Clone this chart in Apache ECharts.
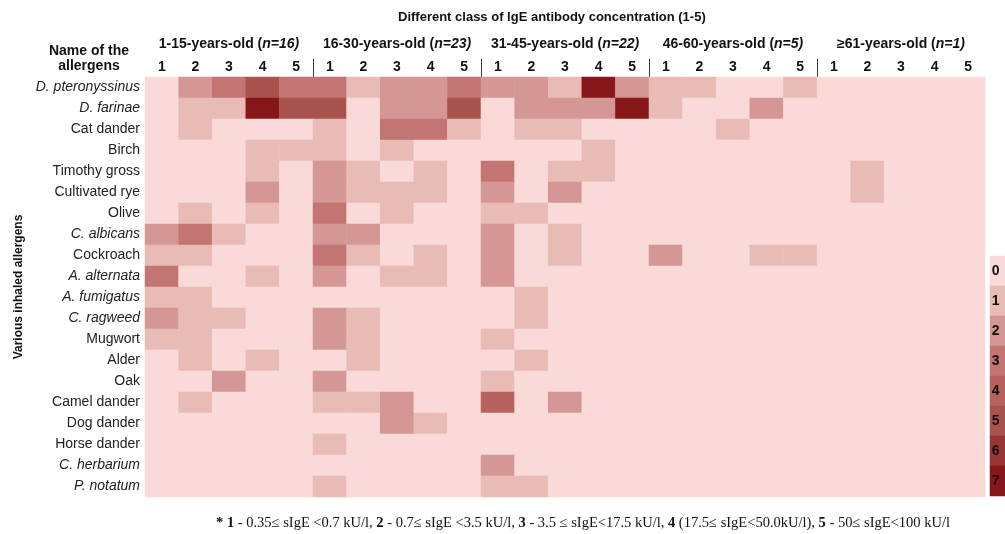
<!DOCTYPE html>
<html>
<head>
<meta charset="utf-8">
<script src="https://cdn.jsdelivr.net/npm/echarts@6/dist/echarts.min.js"></script>
<style>
html,body{margin:0;padding:0;background:#fff;}
#chart{width:1005px;height:534px;}
</style>
</head>
<body>
<div id="chart"></div>
<script>
// ---- data ----
const ageGroups = ['1-15-years-old', '16-30-years-old', '31-45-years-old', '46-60-years-old', '≥61-years-old'];
const groupN = [16, 23, 22, 5, 1];
const classes = ['1', '2', '3', '4', '5'];
const allergens = ['D. pteronyssinus', 'D. farinae', 'Cat dander', 'Birch', 'Timothy gross', 'Cultivated rye',
  'Olive', 'C. albicans', 'Cockroach', 'A. alternata', 'A. fumigatus', 'C. ragweed', 'Mugwort', 'Alder',
  'Oak', 'Camel dander', 'Dog dander', 'Horse dander', 'C. herbarium', 'P. notatum'];
const italicNames = ['D. pteronyssinus', 'D. farinae', 'C. albicans', 'A. alternata', 'A. fumigatus',
  'C. ragweed', 'C. herbarium', 'P. notatum'];
const legendLevels = [0, 1, 2, 3, 4, 5, 6, 7];
const levelColors = ['#f9dad8', '#e8bbb7', '#d49795', '#c27572', '#b6625d', '#a9534e', '#983536', '#861719'];
// one row per allergen; 25 columns = 5 age groups x 5 classes
const levels = [
  [0,2,3,5,3, 3,1,2,2,3, 2,2,1,7,2, 1,1,0,0,1, 0,0,0,0,0], // D. pteronyssinus
  [0,1,1,7,5, 5,0,2,2,5, 0,2,2,2,7, 1,0,0,2,0, 0,0,0,0,0], // D. farinae
  [0,1,0,0,0, 1,0,3,3,1, 0,1,1,0,0, 0,0,1,0,0, 0,0,0,0,0], // Cat dander
  [0,0,0,1,1, 1,0,1,0,0, 0,0,0,1,0, 0,0,0,0,0, 0,0,0,0,0], // Birch
  [0,0,0,1,0, 2,1,0,1,0, 3,0,1,1,0, 0,0,0,0,0, 0,1,0,0,0], // Timothy gross
  [0,0,0,2,0, 2,1,1,1,0, 2,0,2,0,0, 0,0,0,0,0, 0,1,0,0,0], // Cultivated rye
  [0,1,0,1,0, 3,0,1,0,0, 1,1,0,0,0, 0,0,0,0,0, 0,0,0,0,0], // Olive
  [2,3,1,0,0, 2,2,0,0,0, 2,0,1,0,0, 0,0,0,0,0, 0,0,0,0,0], // C. albicans
  [1,1,0,0,0, 3,1,0,1,0, 2,0,1,0,0, 2,0,0,1,1, 0,0,0,0,0], // Cockroach
  [3,0,0,1,0, 2,0,1,1,0, 2,0,0,0,0, 0,0,0,0,0, 0,0,0,0,0], // A. alternata
  [1,1,0,0,0, 0,0,0,0,0, 0,1,0,0,0, 0,0,0,0,0, 0,0,0,0,0], // A. fumigatus
  [2,1,1,0,0, 2,1,0,0,0, 0,1,0,0,0, 0,0,0,0,0, 0,0,0,0,0], // C. ragweed
  [1,1,0,0,0, 2,1,0,0,0, 1,0,0,0,0, 0,0,0,0,0, 0,0,0,0,0], // Mugwort
  [0,1,0,1,0, 0,1,0,0,0, 0,1,0,0,0, 0,0,0,0,0, 0,0,0,0,0], // Alder
  [0,0,2,0,0, 2,0,0,0,0, 1,0,0,0,0, 0,0,0,0,0, 0,0,0,0,0], // Oak
  [0,1,0,0,0, 1,1,2,0,0, 4,0,2,0,0, 0,0,0,0,0, 0,0,0,0,0], // Camel dander
  [0,0,0,0,0, 0,0,2,1,0, 0,0,0,0,0, 0,0,0,0,0, 0,0,0,0,0], // Dog dander
  [0,0,0,0,0, 1,0,0,0,0, 0,0,0,0,0, 0,0,0,0,0, 0,0,0,0,0], // Horse dander
  [0,0,0,0,0, 0,0,0,0,0, 2,0,0,0,0, 0,0,0,0,0, 0,0,0,0,0], // C. herbarium
  [0,0,0,0,0, 1,0,0,0,0, 1,1,0,0,0, 0,0,0,0,0, 0,0,0,0,0]  // P. notatum
];
const titleText = 'Different class of IgE antibody concentration (1-5)';
const headerText = 'Name of the\nallergens';
const yAxisTitle = 'Various inhaled allergens';
const footnote = '{b|* 1} - 0.35≤ sIgE <0.7 kU/l, {b|2} - 0.7≤ sIgE <3.5 kU/l, {b|3} - 3.5 ≤ sIgE<17.5 kU/l, {b|4} (17.5≤ sIgE<50.0kU/l), {b|5} - 50≤ sIgE<100 kU/l';

// ---- build ----
const xCats = [];
ageGroups.forEach((g, gi) => classes.forEach(c => xCats.push(gi + '|' + c)));
const groupBounds = ageGroups.map((g, i) => 'b' + i).concat(['b' + ageGroups.length]);
const cells = [];
levels.forEach((row, r) => row.forEach((v, c) => cells.push([c, r, v])));
const legendCells = legendLevels.map((v, i) => [0, i, v]);

const SANS = 'Liberation Sans, Arial, sans-serif';
const SERIF = 'Liberation Serif, Times New Roman, serif';
const chart = echarts.init(document.getElementById('chart'), null, {renderer: 'canvas'});
chart.setOption({
  backgroundColor: '#fff',
  animation: false,
  title: [
    {text: titleText, left: 393, top: 6,
     textStyle: {fontFamily: SANS, fontSize: 13, fontWeight: 'bold', color: '#111'}},
    {text: headerText, left: 84, top: 39, textAlign: 'center',
     textStyle: {fontFamily: SANS, fontSize: 14, fontWeight: 'bold', color: '#111', lineHeight: 15}},
    {text: footnote, left: 211, top: 511,
     textStyle: {fontFamily: SERIF, fontSize: 14.5, fontWeight: 'normal', color: '#111',
       rich: {b: {fontFamily: SERIF, fontSize: 14.5, fontWeight: 'bold', color: '#111'}}}}
  ],
  grid: [
    {left: 145, right: 20, top: 77, bottom: 37},
    {left: 990, top: 256, width: 34, height: 240}
  ],
  xAxis: [
    {type: 'category', gridIndex: 0, position: 'top', data: xCats,
     axisLine: {show: false}, axisTick: {show: false},
     axisLabel: {interval: 0, margin: 3, formatter: (v) => v.split('|')[1],
       fontFamily: SANS, fontSize: 14, fontWeight: 'bold', color: '#111'},
     splitLine: {show: false}},
    {type: 'category', gridIndex: 0, position: 'top', offset: 24, data: ageGroups,
     axisLine: {show: false}, axisTick: {show: false},
     axisLabel: {interval: 0, margin: 2,
       formatter: (v, i) => v + ' (' + '{i|n=' + groupN[i] + ')}',
       fontFamily: SANS, fontSize: 14, fontWeight: 'bold', color: '#111',
       rich: {i: {fontFamily: SANS, fontSize: 14, fontWeight: 'bold', fontStyle: 'italic', color: '#111'}}}},
    {type: 'category', gridIndex: 1, data: [''], show: false},
    // group separators: boundary axis without band gap, ticks only on interior boundaries
    {type: 'category', gridIndex: 0, position: 'top', boundaryGap: false, data: groupBounds,
     axisLine: {show: false}, axisLabel: {show: false},
     axisTick: {show: true, length: 18, interval: (i) => i > 0 && i < ageGroups.length,
       lineStyle: {color: '#333', width: 1}}}
  ],
  yAxis: [
    {type: 'category', gridIndex: 0, inverse: true, data: allergens,
     axisLine: {show: false}, axisTick: {show: false},
     axisLabel: {interval: 0, margin: 5,
       formatter: (v) => italicNames.includes(v) ? '{i|' + v + '}' : v,
       fontFamily: SANS, fontSize: 14, color: '#222',
       rich: {i: {fontFamily: SANS, fontSize: 14, fontStyle: 'italic', color: '#222'}}},
     name: yAxisTitle, nameLocation: 'middle', nameGap: 120, nameRotate: 90,
     nameTextStyle: {fontFamily: SANS, fontSize: 12, fontWeight: 'bold', color: '#111'}},
    {type: 'category', gridIndex: 1, inverse: true, data: legendLevels.map(String), show: false}
  ],
  visualMap: {
    type: 'piecewise', show: false, dimension: 2, seriesIndex: [0, 1],
    pieces: legendLevels.map((v) => ({value: v, color: levelColors[v]}))
  },
  series: [
    {type: 'heatmap', xAxisIndex: 0, yAxisIndex: 0, data: cells,
     itemStyle: {borderWidth: 0}, emphasis: {disabled: true}},
    {type: 'heatmap', xAxisIndex: 2, yAxisIndex: 1, data: legendCells,
     itemStyle: {borderWidth: 0}, emphasis: {disabled: true},
     label: {show: true, position: 'insideLeft', distance: 2, formatter: (p) => String(p.value[2]),
       fontFamily: 'Liberation Sans Narrow, Liberation Sans, Arial, sans-serif', fontSize: 14, fontWeight: 'bold', color: '#111'}}
  ]
});
</script>
</body>
</html>
